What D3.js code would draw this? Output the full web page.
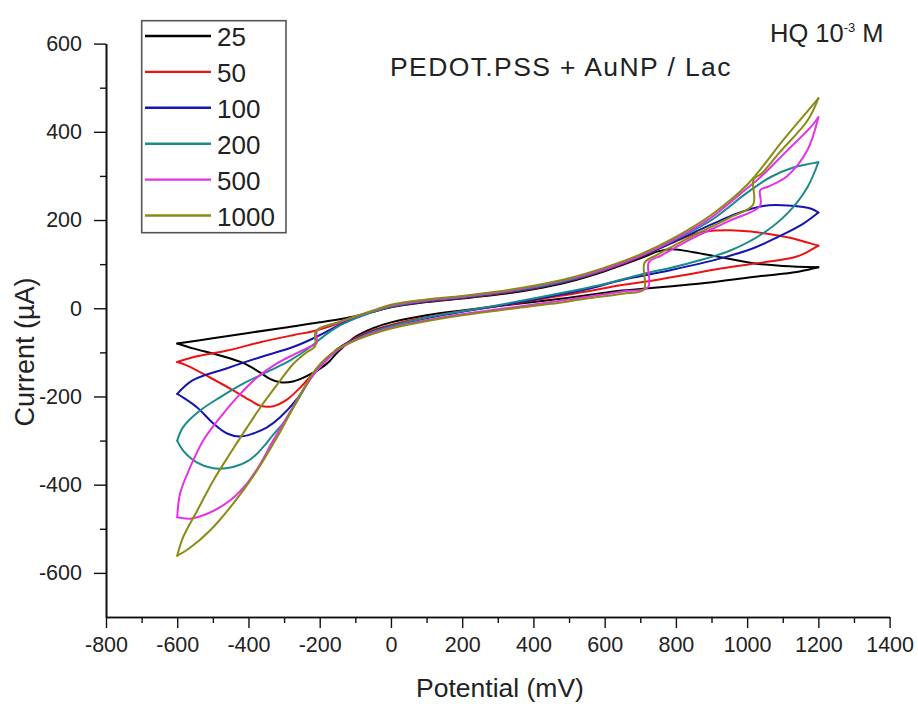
<!DOCTYPE html>
<html>
<head>
<meta charset="utf-8">
<script src="https://cdn.jsdelivr.net/npm/d3@7"></script>
<style>
  html, body { margin: 0; padding: 0; background: #fff; }
  svg { display: block; font-family: "Liberation Sans", Arial, sans-serif; }
</style>
</head>
<body>
<svg id="chart" width="918" height="704"></svg>
<script>
// Cyclic voltammograms of HQ 1 mM at PEDOT:PSS + AuNP / laccase,
// one loop per scan rate (mV/s). Each loop = forward scan (-600 -> 1200 mV)
// followed by the reverse scan (1200 -> -600 mV). Points are [E (mV), I (µA)].
const scanRates = [25, 50, 100, 200, 500, 1000];

const fwd25 = [[-600,-80],[-500,-68],[-400,-56],[-300,-44],[-200,-32],[-100,-18],[-50,-8],[0,2],[100,14],[200,22],[300,31],[400,43],[500,60],[600,84],[700,113],[750,129],[790,134],[850,127],[917,117],[1017,102],[1100,96],[1200,93]];
const rev25 = [[1200,93],[1150,84],[1100,78],[1017,71],[950,64],[869,56],[790,50],[714,45],[650,40],[600,35],[500,24],[400,14],[300,5],[200,-5],[100,-16],[0,-32],[-50,-45],[-100,-65],[-150,-100],[-179,-125],[-227,-150],[-275,-166],[-310,-168],[-340,-160],[-367,-146],[-415,-124],[-480,-107],[-556,-91],[-600,-80]];

const fwd50 = [[-600,-122],[-556,-111],[-460,-96],[-367,-77],[-275,-61],[-219,-52],[-150,-35],[-100,-20],[-50,-7],[0,3],[100,15],[200,23],[300,33],[400,45],[500,62],[600,86],[700,116],[800,152],[860,170],[910,176],[953,177],[1010,174],[1065,168],[1120,160],[1169,149],[1200,142]];
const rev50 = [[1200,142],[1160,124],[1130,115],[1045,104],[925,90],[830,76],[736,63],[644,52],[550,38],[450,25],[350,11],[250,-1],[150,-13],[50,-28],[0,-38],[-50,-50],[-100,-68],[-150,-92],[-207,-138],[-255,-180],[-292,-207],[-331,-222],[-367,-221],[-395,-209],[-443,-186],[-508,-157],[-572,-130],[-600,-122]];

const fwd100 = [[-600,-194],[-556,-163],[-460,-136],[-367,-111],[-275,-88],[-207,-64],[-150,-40],[-100,-22],[-50,-8],[0,4],[100,16],[200,24],[300,34],[400,46],[500,63],[600,87],[700,117],[800,153],[900,190],[972,215],[1045,232],[1113,233],[1178,226],[1200,217]];
const rev100 = [[1200,217],[1158,192],[1085,161],[1017,136],[925,113],[784,86],[644,63],[550,43],[450,27],[350,12],[250,-1],[150,-15],[50,-31],[0,-40],[-50,-52],[-100,-70],[-150,-93],[-207,-136],[-263,-205],[-311,-247],[-348,-270],[-387,-284],[-424,-291],[-460,-284],[-499,-261],[-544,-225],[-584,-202],[-600,-194]];

const fwd200 = [[-600,-300],[-584,-270],[-536,-232],[-480,-202],[-415,-171],[-339,-141],[-283,-118],[-230,-90],[-180,-58],[-150,-42],[-100,-23],[-50,-8],[0,4],[100,17],[200,25],[300,35],[400,47],[500,64],[600,88],[700,118],[800,156],[900,200],[1000,262],[1065,297],[1130,319],[1200,331]];
const rev200 = [[1200,331],[1169,274],[1113,215],[1045,170],[953,131],[832,101],[700,76],[600,55],[500,38],[400,22],[300,7],[200,-7],[100,-21],[0,-41],[-50,-53],[-100,-71],[-150,-94],[-207,-137],[-263,-210],[-300,-258],[-331,-287],[-359,-315],[-395,-343],[-443,-360],[-499,-363],[-544,-350],[-584,-322],[-600,-300]];

const fwd500 = [[-600,-474],[-592,-420],[-564,-361],[-527,-300],[-480,-248],[-432,-202],[-376,-157],[-320,-125],[-270,-104],[-230,-88],[-209,-80],[-207,-50],[-150,-33],[-100,-19],[-50,-6],[0,6],[100,18],[200,26],[300,36],[400,49],[500,66],[600,89],[700,119],[800,158],[900,206],[1000,272],[1037,297],[1113,358],[1178,410],[1200,433]];
const rev500 = [[1200,433],[1169,358],[1113,300],[1060,276],[1037,268],[1036,232],[953,199],[850,160],[760,120],[724,104],[722,48],[650,38],[550,26],[450,14],[350,3],[250,-8],[150,-20],[50,-35],[0,-44],[-50,-56],[-100,-72],[-150,-95],[-207,-141],[-247,-186],[-292,-247],[-331,-300],[-367,-353],[-404,-397],[-452,-436],[-508,-463],[-564,-477],[-600,-474]];

const fwd1000 = [[-600,-561],[-584,-520],[-544,-459],[-499,-391],[-452,-330],[-404,-270],[-359,-216],[-311,-164],[-275,-127],[-240,-102],[-213,-86],[-211,-52],[-150,-32],[-100,-18],[-50,-5],[0,8],[100,20],[200,28],[300,38],[400,51],[500,68],[600,92],[700,122],[800,162],[900,212],[1000,280],[1100,380],[1150,428],[1200,476]];
const rev1000 = [[1200,476],[1169,425],[1093,355],[1040,305],[1018,292],[1017,235],[950,205],[850,165],[750,122],[712,103],[710,42],[650,33],[550,22],[450,10],[350,0],[250,-10],[150,-22],[50,-37],[0,-46],[-50,-58],[-100,-73],[-150,-93],[-207,-134],[-263,-209],[-320,-293],[-376,-368],[-443,-443],[-508,-504],[-564,-543],[-600,-561]];

const xMajorTicks = [-800,-600,-400,-200,0,200,400,600,800,1000,1200,1400];
const yMajorTicks = [-600,-400,-200,0,200,400,600];

const forwardScans = [fwd25, fwd50, fwd100, fwd200, fwd500, fwd1000];
const reverseScans = [rev25, rev50, rev100, rev200, rev500, rev1000];
const seriesColors = ['#000000', '#ee1111', '#1515b0', '#1a8a8a', '#e632e6', '#8a8a14'];

const svg = d3.select('#chart');

const x = d3.scaleLinear().domain([-800, 1400]).range([106, 889.6]);
const y = d3.scaleLinear().domain([-700, 600]).range([617, 43.6]);

// plain hyphen-minus tick labels
const tickText = d => String(d);

// axes
const xMinor = d3.range(-700, 1400, 200);
const yMinor = d3.range(-500, 600, 200);

const axisStyle = g => {
  g.select('.domain').attr('stroke', '#111').attr('stroke-width', 1.6);
  g.selectAll('.tick line').attr('stroke', '#111').attr('stroke-width', 1.4);
  g.selectAll('.tick text').attr('fill', '#222').style('font-size', '21.5px');
};

svg.append('g').attr('transform', `translate(0,${y(-700)})`)
  .call(d3.axisBottom(x).tickValues(xMinor).tickSize(6).tickSizeOuter(0).tickFormat(''))
  .call(axisStyle);
svg.append('g').attr('transform', `translate(0,${y(-700)})`)
  .call(d3.axisBottom(x).tickValues(xMajorTicks).tickSize(11).tickSizeOuter(0).tickPadding(9).tickFormat(tickText))
  .call(axisStyle);

svg.append('g').attr('transform', `translate(${x(-800)},0)`)
  .call(d3.axisLeft(y).tickValues(yMinor).tickSize(6).tickSizeOuter(0).tickFormat(''))
  .call(axisStyle);
svg.append('g').attr('transform', `translate(${x(-800)},0)`)
  .call(d3.axisLeft(y).tickValues(yMajorTicks).tickSize(12).tickSizeOuter(0).tickPadding(12).tickFormat(tickText))
  .call(axisStyle);

// axis titles
svg.append('text')
  .attr('x', 500).attr('y', 697)
  .attr('text-anchor', 'middle')
  .attr('fill', '#222')
  .style('font-size', '26.5px')
  .text('Potential (mV)');

svg.append('text')
  .attr('transform', 'translate(34,352) rotate(-90)')
  .attr('text-anchor', 'middle')
  .attr('fill', '#222')
  .style('font-size', '27px')
  .text('Current (µA)');

// voltammograms
const line = d3.line()
  .x(d => x(d[0]))
  .y(d => y(d[1]))
  .curve(d3.curveCatmullRom.alpha(0.5));

const plot = svg.append('g');
scanRates.forEach((rate, i) => {
  [forwardScans[i], reverseScans[i]].forEach(branch => {
    plot.append('path')
      .datum(branch)
      .attr('d', line)
      .attr('fill', 'none')
      .attr('stroke', seriesColors[i])
      .attr('stroke-width', 2)
      .attr('stroke-linejoin', 'round')
      .attr('stroke-linecap', 'round');
  });
});

// legend
const legend = svg.append('g');
legend.append('rect')
  .attr('x', 141.7).attr('y', 20.7)
  .attr('width', 144.3).attr('height', 212)
  .attr('fill', '#fff')
  .attr('stroke', '#555')
  .attr('stroke-width', 1.6);

scanRates.forEach((rate, i) => {
  const ly = 36 + i * 35.9;
  legend.append('line')
    .attr('x1', 145).attr('x2', 211)
    .attr('y1', ly).attr('y2', ly)
    .attr('stroke', seriesColors[i])
    .attr('stroke-width', 2.4);
  legend.append('text')
    .attr('x', 217).attr('y', ly + 10)
    .attr('fill', '#222')
    .style('font-size', '26px')
    .text(rate);
});

// annotations
svg.append('text')
  .attr('x', 390).attr('y', 76)
  .attr('fill', '#222')
  .style('font-size', '26.5px')
  .style('letter-spacing', '1.4px')
  .text('PEDOT.PSS + AuNP / Lac');

const hq = svg.append('text')
  .attr('x', 770).attr('y', 42)
  .attr('fill', '#222')
  .style('font-size', '25.5px');
hq.append('tspan').text('HQ 10');
hq.append('tspan').attr('dy', -10).style('font-size', '13px').text('-3');
hq.append('tspan').attr('dy', 10).text(' M');
</script>
</body>
</html>
